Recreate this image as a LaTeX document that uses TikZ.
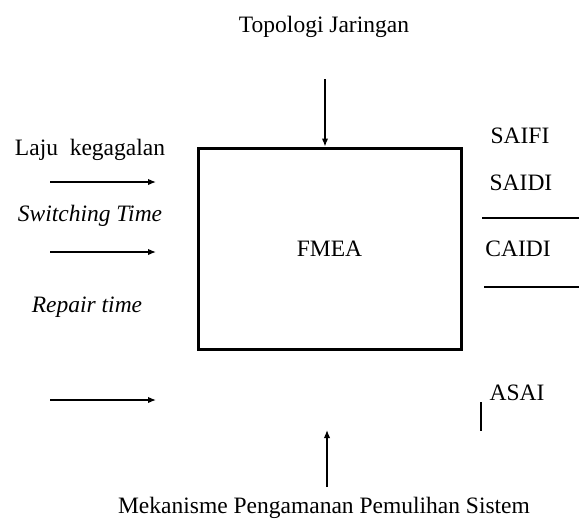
\documentclass[tikz,border=0pt]{standalone}
\usepackage{fontspec}
\setmainfont{Liberation Serif}
\usetikzlibrary{arrows.meta}
\begin{document}
\begin{tikzpicture}[x=1pt,y=-1pt,
  txt/.style={inner sep=0pt, font=\fontsize{23.5}{27}\selectfont},
  flow/.style={line width=1.4pt, -{Latex[length=8pt,width=6.5pt]}},
  rule/.style={line width=1.3pt},
  fmeabox/.style={draw, line width=3pt, minimum width=263pt, minimum height=201pt, inner sep=0pt, font=\fontsize{23.5}{27}\selectfont}]
\useasboundingbox (0,0) rectangle (579,520);

% central block
\node[fmeabox] (fmea) at (329.5,248.5) {FMEA};

% top input
\node[txt] (topo) at (324,27) {Topologi Jaringan};
\coordinate (topin) at (325,79);
\draw[flow] (topin) -- (topin |- fmea.north);

% left inputs
\node[txt] (laju) at (90,150) {Laju\ \ kegagalan};
\node[txt] (sw) at (90,216) {\itshape Switching Time};
\node[txt] (rep) at (87,307) {\itshape Repair time};
\coordinate (a1s) at (50,182); \coordinate (a1e) at (156,182);
\coordinate (a2s) at (50,252); \coordinate (a2e) at (156,252);
\coordinate (a3s) at (50,400); \coordinate (a3e) at (156,400);
\draw[flow] (a1s) -- (a1e);
\draw[flow] (a2s) -- (a2e);
\draw[flow] (a3s) -- (a3e);

% bottom input
\node[txt] (mek) at (324,508) {Mekanisme Pengamanan Pemulihan Sistem};
\coordinate (botin) at (327,487);
\coordinate (bottip) at (327,430);
\draw[flow] (botin) -- (bottip);

% outputs
\node[txt] (saifi) at (520,136) {SAIFI};
\node[txt] (saidi) at (521,183) {SAIDI};
\node[txt] (caidi) at (518,249) {CAIDI};
\node[txt] (asai) at (517,393) {ASAI};
\coordinate (l1s) at (482,218); \coordinate (l1e) at (579,218);
\coordinate (l2s) at (484,287); \coordinate (l2e) at (579,287);
\coordinate (v1s) at (481,402); \coordinate (v1e) at (481,431);
\draw[rule] (l1s) -- (l1e);
\draw[rule] (l2s) -- (l2e);
\draw[rule] (v1s) -- (v1e);
\end{tikzpicture}
\end{document}
